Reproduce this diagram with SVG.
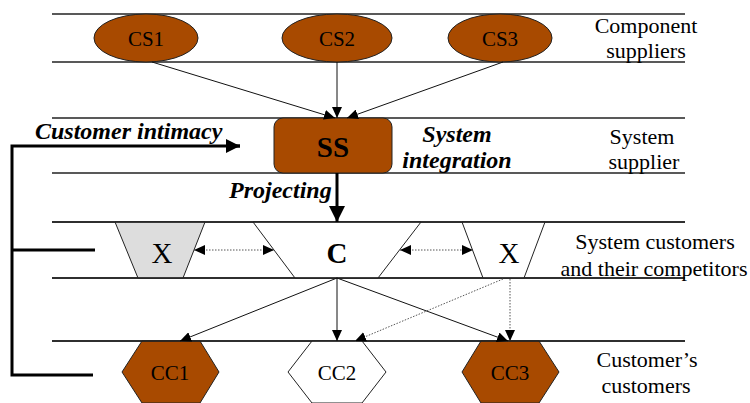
<svg xmlns="http://www.w3.org/2000/svg" width="750" height="403" viewBox="0 0 750 403">
<defs>
<style>
.band{stroke:#222;stroke-width:1.3;fill:none}
.conn{stroke:#111;stroke-width:1;fill:none}
.dot{stroke:#555;stroke-width:1;stroke-dasharray:1.5,1.5;fill:none}
.thick{stroke:#000;stroke-width:3;fill:none}
.brown{fill:#A84A00;stroke:#222;stroke-width:1}
text{font-family:'Liberation Serif','Times New Roman',serif;fill:#000}
.lbl{font-size:22px;text-anchor:middle}
.bi{font-weight:bold;font-style:italic;font-size:24px}
</style>
<marker id="ah" markerUnits="userSpaceOnUse" markerWidth="11" markerHeight="10" refX="11" refY="5" orient="auto-start-reverse">
<path d="M0,0 L11,5 L0,10 z" fill="#000"/>
</marker>
<marker id="big" markerUnits="userSpaceOnUse" markerWidth="16" markerHeight="16" refX="16" refY="8" orient="auto">
<path d="M0,0 L16,8 L0,16 z" fill="#000"/>
</marker>
<marker id="mid" markerUnits="userSpaceOnUse" markerWidth="14" markerHeight="14" refX="14" refY="7" orient="auto">
<path d="M0,0 L14,7 L0,14 z" fill="#000"/>
</marker>
</defs>

<g id="bands">
<line class="band" x1="52" y1="14" x2="685" y2="14"/>
<line class="band" x1="52" y1="62" x2="685" y2="62"/>
<line class="band" x1="52" y1="118" x2="685" y2="118"/>
<line class="band" x1="52" y1="173" x2="685" y2="173"/>
<line class="band" x1="52" y1="222" x2="685" y2="222"/>
<line class="band" x1="52" y1="278" x2="685" y2="278"/>
<line class="band" x1="52" y1="341" x2="685" y2="341"/>
</g>

<g id="CS1"><ellipse class="brown" cx="146" cy="38" rx="52" ry="24"/><text x="146" y="46" font-family="Liberation Serif, serif" font-size="21" text-anchor="middle">CS1</text></g>
<g id="CS2"><ellipse class="brown" cx="337" cy="38" rx="55" ry="24"/><text x="337" y="46" font-family="Liberation Serif, serif" font-size="21" text-anchor="middle">CS2</text></g>
<g id="CS3"><ellipse class="brown" cx="500" cy="38" rx="52" ry="24"/><text x="500" y="46" font-family="Liberation Serif, serif" font-size="21" text-anchor="middle">CS3</text></g>

<g id="SS"><rect class="brown" x="274" y="118" width="118" height="55" rx="9" ry="9"/><text x="333" y="157" font-family="Liberation Serif, serif" font-size="29" font-weight="bold" text-anchor="middle">SS</text></g>

<g id="X1"><polygon points="115,222 205,222 183,278 138,278" fill="#DDDDDD" stroke="#222" stroke-width="1"/><text x="162" y="263" font-family="Liberation Serif, serif" font-size="29" text-anchor="middle">X</text></g>
<g id="C"><polygon points="253,222 421,222 378,278 295,278" fill="#fff" stroke="#222" stroke-width="1"/><text x="337" y="263" font-family="Liberation Serif, serif" font-size="29" font-weight="bold" text-anchor="middle">C</text></g>
<g id="X2"><polygon points="462,222 545,222 524,278 483,278" fill="#fff" stroke="#222" stroke-width="1"/><text x="509" y="263" font-family="Liberation Serif, serif" font-size="29" text-anchor="middle">X</text></g>

<g id="CC1"><polygon class="brown" points="142,341 200,341 219,372 200,403 142,403 122,372"/><text x="170" y="380" font-family="Liberation Serif, serif" font-size="21" text-anchor="middle">CC1</text></g>
<g id="CC2"><polygon points="312,341 362,341 386,372 362,403 312,403 288,372" fill="#fff" stroke="#222" stroke-width="1"/><text x="337" y="380" font-family="Liberation Serif, serif" font-size="21" text-anchor="middle">CC2</text></g>
<g id="CC3"><polygon class="brown" points="481,341 539,341 559,372 539,403 481,403 462,372"/><text x="510" y="380" font-family="Liberation Serif, serif" font-size="21" text-anchor="middle">CC3</text></g>

<g id="band-lines-redraw">
<line class="band" x1="52" y1="222" x2="685" y2="222"/>
<line class="band" x1="52" y1="278" x2="685" y2="278"/>
<line class="band" x1="52" y1="341" x2="685" y2="341"/>
</g>

<g id="connectors">
<line class="conn" x1="152" y1="62" x2="335" y2="118" marker-end="url(#ah)"/>
<line class="conn" x1="337" y1="62" x2="337" y2="118" marker-end="url(#ah)"/>
<line class="conn" x1="503" y1="62" x2="347" y2="118" marker-end="url(#ah)"/>
<line x1="337" y1="173" x2="337" y2="222" stroke="#000" stroke-width="3" marker-end="url(#big)"/>
<line class="dot" x1="194" y1="250" x2="274" y2="250" marker-start="url(#ah)" marker-end="url(#ah)"/>
<line class="dot" x1="400" y1="250" x2="473" y2="250" marker-start="url(#ah)" marker-end="url(#ah)"/>
<line class="conn" x1="337" y1="278" x2="180" y2="341" marker-end="url(#ah)"/>
<line class="conn" x1="337" y1="278" x2="337" y2="341" marker-end="url(#ah)"/>
<line class="conn" x1="337" y1="278" x2="508" y2="341" marker-end="url(#ah)"/>
<line class="dot" x1="503" y1="279" x2="355" y2="341" marker-end="url(#ah)"/>
<line class="dot" x1="510" y1="279" x2="510" y2="341" marker-end="url(#ah)"/>
<path class="thick" d="M240,146 H12 V375 H93"/>
<line x1="228" y1="146" x2="240" y2="146" stroke="#000" stroke-width="3" marker-end="url(#mid)"/>
<line class="thick" x1="12" y1="250" x2="95" y2="250" stroke-width="3.5"/>
</g>

<g id="labels">
<text class="bi" x="35" y="139" font-family="Liberation Serif, serif">Customer intimacy</text>
<text class="bi" x="229" y="198" font-family="Liberation Serif, serif">Projecting</text>
<text class="bi" x="457" y="142" font-family="Liberation Serif, serif" font-size="23" text-anchor="middle">System</text>
<text class="bi" x="457" y="168" font-family="Liberation Serif, serif" font-size="23" text-anchor="middle">integration</text>
<text class="lbl" x="646" y="33" font-family="Liberation Serif, serif">Component</text>
<text class="lbl" x="646" y="58" font-family="Liberation Serif, serif">suppliers</text>
<text class="lbl" x="642" y="144" font-family="Liberation Serif, serif">System</text>
<text class="lbl" x="644" y="169" font-family="Liberation Serif, serif">supplier</text>
<text class="lbl" x="655" y="249" font-family="Liberation Serif, serif">System customers</text>
<text class="lbl" x="654" y="276" font-family="Liberation Serif, serif">and their competitors</text>
<text class="lbl" x="647" y="367" font-family="Liberation Serif, serif">Customer’s</text>
<text class="lbl" x="646" y="393" font-family="Liberation Serif, serif">customers</text>
</g>
</svg>
